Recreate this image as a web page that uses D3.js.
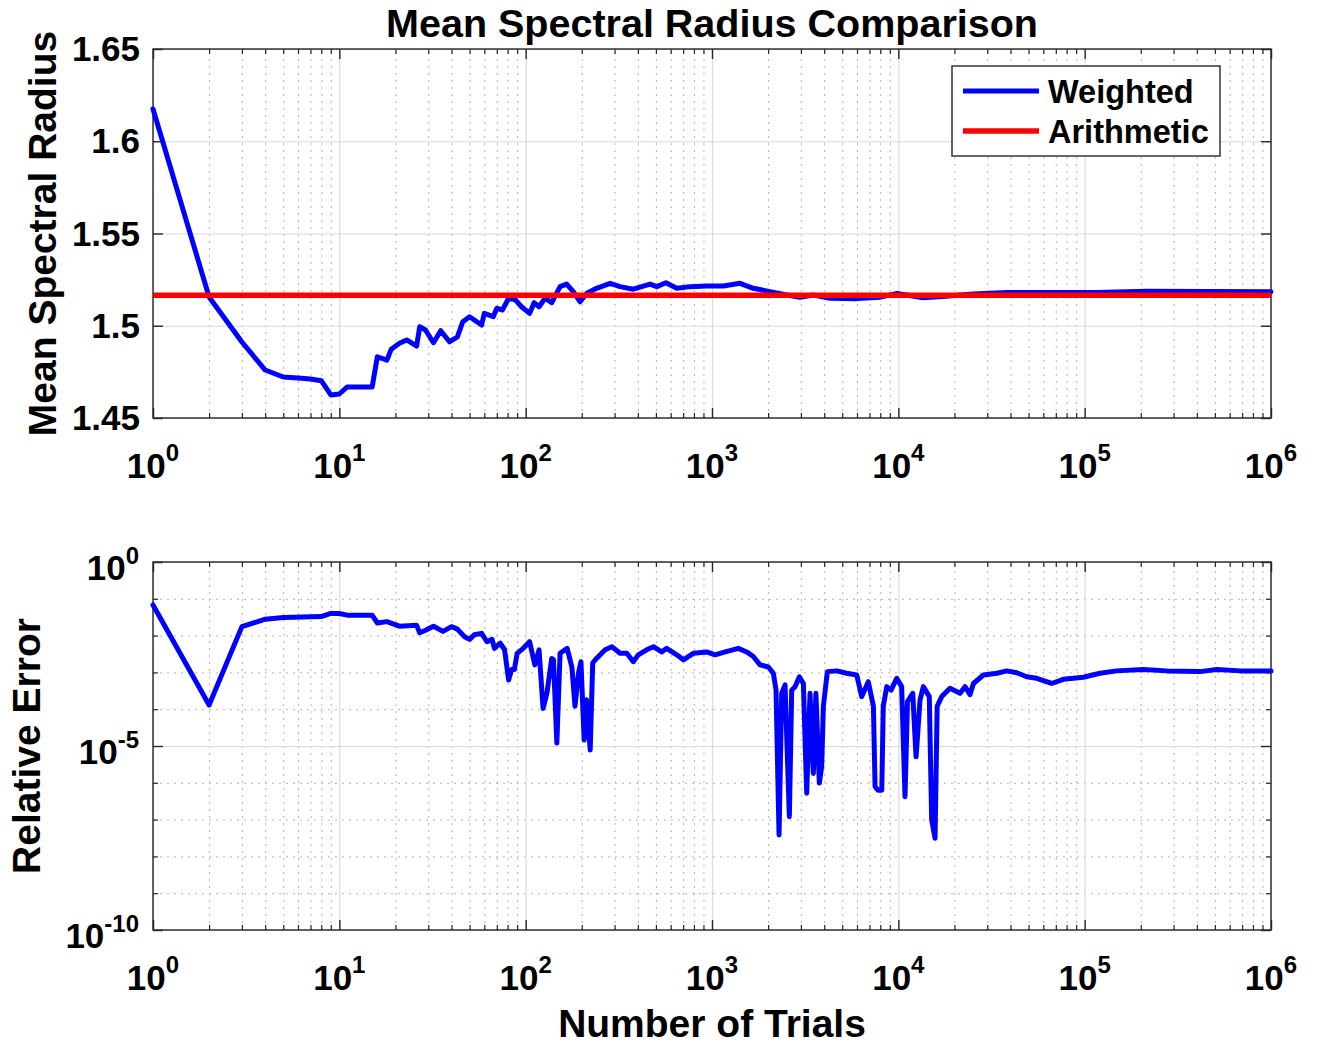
<!DOCTYPE html>
<html>
<head>
<meta charset="utf-8">
<script src="https://cdn.jsdelivr.net/npm/d3@7"></script>
<style>
  body { margin: 0; background: #fff; }
  text { font-family: "Liberation Sans", Arial, Helvetica, sans-serif; font-weight: bold; fill: #000; }
</style>
</head>
<body>
<svg id="chart" width="1318" height="1045"></svg>
<script>
// values
const trialsW = [1, 2, 3, 4, 5, 6, 7, 8, 9, 10, 11, 15, 16, 18, 19, 21, 23, 26, 27, 29, 32, 35, 39, 43, 46, 50,
  58, 60, 67, 70, 75, 81, 88, 95, 105, 111, 118, 127, 138, 153, 166, 180, 196, 213, 240, 284, 321, 378, 465,
  505, 566, 647, 763, 937, 1151, 1413, 1666, 2048, 2516, 2966, 3497, 4298, 6000, 8000, 9840, 13580, 18000,
  25200, 38400, 116000, 216000, 1000000]
const weighted = [1.6175, 1.5156, 1.4912, 1.476, 1.4722, 1.4717, 1.4711, 1.4702, 1.4625, 1.463, 1.4668, 1.4668,
  1.4832, 1.4814, 1.4873, 1.4905, 1.4923, 1.489, 1.4995, 1.4977, 1.4908, 1.4973, 1.4913, 1.494, 1.5022, 1.5049,
  1.5004, 1.5067, 1.5049, 1.5095, 1.5085, 1.5149, 1.514, 1.5103, 1.5067, 1.5125, 1.5103, 1.5149, 1.5125, 1.5212,
  1.5226, 1.5185, 1.513, 1.5176, 1.5203, 1.523, 1.5212, 1.5198, 1.5226, 1.5212, 1.5233, 1.5203, 1.5212, 1.5215,
  1.5215, 1.523, 1.5203, 1.5185, 1.5167, 1.5154, 1.5167, 1.5149, 1.5147, 1.5155, 1.5175, 1.5152, 1.516, 1.5172,
  1.518, 1.518, 1.5187, 1.5184]
const arithmetic = 1.5165

const trialsE = [1, 2, 3, 4, 5, 8, 9, 10, 11, 15, 16, 18, 21, 26, 27, 29, 32, 36, 40, 43, 47, 50, 53, 58, 62, 66,
  68, 73, 77, 81, 84, 87, 90, 97, 105, 112, 118, 124, 130, 138, 141, 147, 153, 167, 177, 184, 192, 198, 206, 212,
  222, 229, 240, 267, 290, 321, 349, 378, 402, 446, 485, 537, 571, 647, 702, 794, 937, 1038, 1151, 1384, 1535,
  1666, 1811, 2005, 2134, 2206, 2290, 2366, 2466, 2601, 2678, 2791, 2943, 3093, 3223, 3358, 3499, 3611, 3767,
  3879, 3960, 4160, 4670, 5280, 5980, 6360, 6900, 7350, 7500, 7770, 8150, 8300, 8670, 9140, 9800, 10420, 10860,
  11200, 11950, 12450, 13080, 13620, 14660, 15100, 15740, 16160, 17100, 18930, 21430, 22800, 24260, 25300,
  28590, 33740, 38190, 43200, 48870, 55300, 66500, 76800, 98400, 120800, 148500, 206500, 275600, 416000,
  511500, 682000, 1000000]
const relError = [6.8e-2, 1.3e-4, 1.75e-2, 2.8e-2, 3.1e-2, 3.3e-2, 4.0e-2, 4.0e-2, 3.6e-2, 3.6e-2, 2.2e-2, 2.4e-2,
  1.8e-2, 1.9e-2, 1.2e-2, 1.4e-2, 1.8e-2, 1.3e-2, 1.75e-2, 1.5e-2, 9.3e-3, 7.9e-3, 1.05e-2, 1.15e-2, 6.8e-3,
  7.9e-3, 4.5e-3, 6.2e-3, 4.2e-3, 6.2e-4, 1.2e-3, 1.2e-3, 3.3e-3, 4.5e-3, 6.8e-3, 1.6e-3, 4.1e-3, 1.05e-4,
  2.7e-4, 2.4e-3, 2.2e-3, 1.2e-5, 3.3e-3, 4.5e-3, 1.4e-3, 1.2e-4, 9.5e-4, 1.95e-3, 1.45e-5, 1.8e-4, 7.8e-6,
  1.8e-3, 2.4e-3, 4.1e-3, 5.0e-3, 3.3e-3, 3.3e-3, 1.95e-3, 3.0e-3, 4.1e-3, 5.0e-3, 3.6e-3, 4.5e-3, 3.0e-3,
  2.2e-3, 3.3e-3, 3.6e-3, 3.0e-3, 3.5e-3, 4.5e-3, 3.6e-3, 2.7e-3, 1.6e-3, 1.4e-3, 9.5e-4, 3.3e-4, 3.8e-8,
  2.7e-4, 4.6e-4, 1.2e-7, 3.3e-4, 4.1e-4, 7.6e-4, 5.0e-4, 5.2e-7, 2.7e-4, 1.8e-6, 2.7e-4, 9.8e-7, 2.8e-6,
  1.2e-4, 1.05e-3, 1.1e-3, 9.5e-4, 8.5e-4, 2.2e-4, 5.6e-4, 1.2e-4, 7.9e-7, 6.3e-7, 6.3e-7, 1.2e-4, 4.1e-4,
  3.3e-4, 6.9e-4, 4.1e-4, 4.2e-7, 1.6e-4, 2.7e-4, 5.1e-6, 1.8e-4, 4.1e-4, 2.2e-4, 9.8e-8, 3.1e-8, 1.2e-4,
  2.2e-4, 3.7e-4, 2.7e-4, 4.1e-4, 2.5e-4, 5.0e-4, 8.5e-4, 9.5e-4, 1.1e-3, 9.8e-4, 7.6e-4, 6.9e-4, 5.0e-4,
  6.5e-4, 7.4e-4, 9.5e-4, 1.1e-3, 1.2e-3, 1.1e-3, 1.05e-3, 1.2e-3, 1.1e-3, 1.1e-3]

const xTicks = [1, 10, 100, 1000, 10000, 100000, 1000000]
const xTickExp = ["0", "1", "2", "3", "4", "5", "6"]
const yTopTicks = [1.45, 1.5, 1.55, 1.6, 1.65]
const yTopLabels = ["1.45", "1.5", "1.55", "1.6", "1.65"]
const yBotTicks = [1e-10, 1e-5, 1]
const yBotExp = ["-10", "-5", "0"]
const yBotMinor = [1e-9, 1e-8, 1e-7, 1e-6, 1e-4, 1e-3, 1e-2, 1e-1]
const legendNames = ["Weighted", "Arithmetic"]
const colors = ["#0000ff", "#ff0000"]

const W = 1118
const svg = d3.select("#chart")

const x = d3.scaleLog().domain([1, 1e6]).range([0, W])
const xMinor = []
xTicks.slice(0, -1).forEach(d => { for (let k = 2; k <= 9; k++) xMinor.push(d * k) })

// grid, ticks on all 4 sides and the box, matlab style
function frame(g, y, h, yMajor, yMinor) {
  const grid = g.append("g")
  grid.append("g").attr("transform", `translate(0,${h})`)
    .call(d3.axisBottom(x).tickValues(xMinor).tickSize(-h).tickFormat(""))
    .call(s => s.select(".domain").remove())
    .selectAll("line").attr("stroke", "#b4b4b4").attr("stroke-dasharray", "2,5")
  if (yMinor.length) {
    grid.append("g")
      .call(d3.axisLeft(y).tickValues(yMinor).tickSize(-W).tickFormat(""))
      .call(s => s.select(".domain").remove())
      .selectAll("line").attr("stroke", "#b4b4b4").attr("stroke-dasharray", "2,5")
  }
  grid.append("g").attr("transform", `translate(0,${h})`)
    .call(d3.axisBottom(x).tickValues(xTicks).tickSize(-h).tickFormat(""))
    .call(s => s.select(".domain").remove())
    .selectAll("line").attr("stroke", "#dadada").attr("stroke-width", 1.2)
  grid.append("g")
    .call(d3.axisLeft(y).tickValues(yMajor).tickSize(-W).tickFormat(""))
    .call(s => s.select(".domain").remove())
    .selectAll("line").attr("stroke", "#dadada").attr("stroke-width", 1.2)

  const ax = g.append("g")
  const sides = [
    [d3.axisBottom(x), `translate(0,${h})`, xTicks, xMinor],
    [d3.axisTop(x), "translate(0,0)", xTicks, xMinor],
    [d3.axisLeft(y), "translate(0,0)", yMajor, yMinor],
    [d3.axisRight(y), `translate(${W},0)`, yMajor, yMinor]
  ]
  sides.forEach(([a, t, maj, min]) => {
    ax.append("g").attr("transform", t)
      .call(a.tickValues(maj).tickSize(-10).tickFormat(""))
      .call(s => s.select(".domain").remove())
      .selectAll("line").attr("stroke", "#262626").attr("stroke-width", 1.4)
    if (min.length) {
      ax.append("g").attr("transform", t)
        .call(a.tickValues(min).tickSize(-5).tickFormat(""))
        .call(s => s.select(".domain").remove())
        .selectAll("line").attr("stroke", "#262626").attr("stroke-width", 1.2)
    }
  })
  g.append("rect").attr("width", W).attr("height", h)
    .attr("fill", "none").attr("stroke", "#262626").attr("stroke-width", 1.4)

  // x labels 10^n
  const xl = g.append("g").selectAll("text").data(xTicks).join("text")
    .attr("x", d => x(d)).attr("y", h + 60).attr("text-anchor", "middle").style("font-size", "35px")
  xl.append("tspan").text("10")
  xl.append("tspan").attr("dy", -17).style("font-size", "24px").text((d, i) => xTickExp[i])
}

// top panel
const h1 = 369
const gTop = svg.append("g").attr("transform", "translate(153,49)")
const y1 = d3.scaleLinear().domain([1.45, 1.65]).range([h1, 0])
frame(gTop, y1, h1, yTopTicks, [])

gTop.append("g").selectAll("text").data(yTopTicks).join("text")
  .attr("x", -13).attr("y", d => y1(d) + 12).attr("text-anchor", "end").style("font-size", "35px")
  .text((d, i) => yTopLabels[i])

const line1 = d3.line().x(d => x(d[0])).y(d => y1(d[1]))
gTop.append("path")
  .datum(trialsW.map((t, i) => [t, weighted[i]]))
  .attr("d", line1).attr("fill", "none").attr("stroke", colors[0])
  .attr("stroke-width", 5).attr("stroke-linejoin", "round").attr("stroke-linecap", "round")
gTop.append("path")
  .datum(x.domain().map(t => [t, arithmetic]))
  .attr("d", line1).attr("fill", "none").attr("stroke", colors[1]).attr("stroke-width", 5.5)

// legend
const lg = gTop.append("g").attr("transform", `translate(${952 - 153},${66 - 49})`)
lg.append("rect").attr("width", 268).attr("height", 90).attr("fill", "#fff")
  .attr("stroke", "#262626").attr("stroke-width", 1.4)
legendNames.forEach((name, i) => {
  lg.append("line").attr("x1", 11).attr("x2", 87).attr("y1", 25 + i * 40).attr("y2", 25 + i * 40)
    .attr("stroke", colors[i]).attr("stroke-width", i ? 5.5 : 5)
  lg.append("text").attr("x", 96).attr("y", 37 + i * 40).style("font-size", "32.5px").text(name)
})

svg.append("text").attr("x", 153 + W / 2).attr("y", 37).attr("text-anchor", "middle")
  .style("font-size", "39.5px").text("Mean Spectral Radius Comparison")
svg.append("text").attr("transform", `translate(56,${49 + h1 / 2}) rotate(-90)`)
  .attr("text-anchor", "middle").style("font-size", "39px").text("Mean Spectral Radius")

// bottom panel
const h2 = 368
const gBot = svg.append("g").attr("transform", "translate(153,562)")
const y2 = d3.scaleLog().domain([1e-10, 1]).range([h2, 0])
frame(gBot, y2, h2, yBotTicks, yBotMinor)

const yl = gBot.append("g").selectAll("text").data(yBotTicks).join("text")
  .attr("x", -14).attr("y", d => y2(d) + 18).attr("text-anchor", "end").style("font-size", "35px")
yl.append("tspan").text("10")
yl.append("tspan").attr("dy", -16).style("font-size", "24px").text((d, i) => yBotExp[i])

const line2 = d3.line().x(d => x(d[0])).y(d => y2(d[1]))
gBot.append("path")
  .datum(trialsE.map((t, i) => [t, relError[i]]))
  .attr("d", line2).attr("fill", "none").attr("stroke", colors[0])
  .attr("stroke-width", 5).attr("stroke-linejoin", "round").attr("stroke-linecap", "round")

svg.append("text").attr("x", 153 + W / 2).attr("y", 1037).attr("text-anchor", "middle")
  .style("font-size", "39px").text("Number of Trials")
svg.append("text").attr("transform", `translate(40,${562 + h2 / 2}) rotate(-90)`)
  .attr("text-anchor", "middle").style("font-size", "39px").text("Relative Error")
</script>
</body>
</html>
